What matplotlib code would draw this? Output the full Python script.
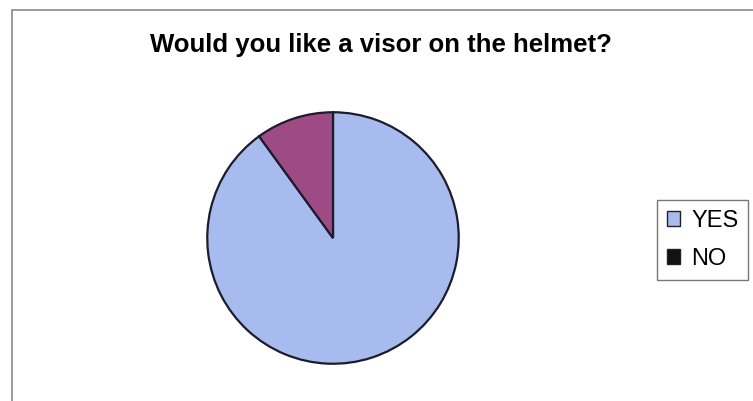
import matplotlib
matplotlib.use("Agg")
import matplotlib.pyplot as plt
from matplotlib.patches import Rectangle

plt.rcParams['font.family'] = ['Liberation Sans', 'DejaVu Sans']

# data
labels = ["YES", "NO"]
values = [90, 10]
colors = ["#A8BBEE", "#9E4A84"]
legend_marks = ["#A8BBEE", "#111111"]
title = "Would you like a visor on the helmet?"

W, H = 753, 401
fig = plt.figure(figsize=(W / 100, H / 100), dpi=100)

# outer chart frame
fig.patches.append(Rectangle((12 / W, -0.05), 1.0, (H - 10) / H + 0.05,
                             transform=fig.transFigure, fill=False,
                             edgecolor="#8a8a8a", linewidth=1.2))

cx, cy, r = 333, 238, 127
ax = fig.add_axes([(cx - r) / W, (H - cy - r) / H, 2 * r / W, 2 * r / H])
wedges, _ = ax.pie(values, colors=colors, startangle=90, counterclock=False,
                   wedgeprops=dict(edgecolor="#1c1c2c", linewidth=1.6))
ax.set_xlim(-1.01, 1.01)
ax.set_ylim(-1.01, 1.01)
ax.set_aspect("equal")

fig.text(381 / W, 1 - 45 / H, title, ha="center", va="center",
         fontsize=18.5, fontweight="bold")

leg = fig.legend(wedges, labels, loc="center right",
                 bbox_to_anchor=(748 / W, 1 - 240 / H),
                 frameon=True, fancybox=False, fontsize=17,
                 handlelength=0.55, handleheight=0.6, handletextpad=0.5,
                 labelspacing=0.7, borderpad=0.4, borderaxespad=0)
leg.get_frame().set_edgecolor("#555555")
leg.get_frame().set_linewidth(1.0)
for h, c in zip(leg.legend_handles, legend_marks):
    h.set_facecolor(c)
    h.set_edgecolor("#222222")
    h.set_linewidth(1.0)

fig.savefig("out.png", dpi=100)
